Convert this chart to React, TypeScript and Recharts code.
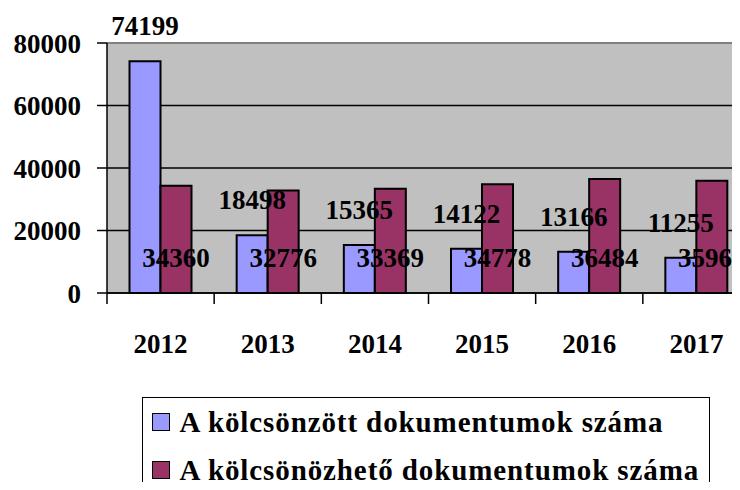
import React from 'react';
import { BarChart, Bar, XAxis, YAxis, CartesianGrid, Legend, LabelList, ReferenceLine } from 'recharts';

const years = ['2012', '2013', '2014', '2015', '2016', '2017'];
const borrowed = [74199, 18498, 15365, 14122, 13166, 11255];
const available = [34360, 32776, 33369, 34778, 36484, 35960];
const yTicks = [0, 20000, 40000, 60000, 80000];
const seriesNames = ['A kölcsönzött dokumentumok száma', 'A kölcsönözhető dokumentumok száma'];
const seriesColors = ['#9999FF', '#993366'];

const data = years.map((y, i) => ({ year: y, borrowed: borrowed[i], available: available[i] }));

const FONT = '"Liberation Serif", "Times New Roman", serif';
const CHART_W = 760;
const CHART_H = 490;
const MARGIN = { top: 43, right: 10, left: 0, bottom: 137 };
const YAXIS_W = 107;
const HALF_BAND = (CHART_W - MARGIN.left - MARGIN.right - YAXIS_W) / years.length / 2;

const XTick = (props: any) => {
  const { x, y, payload } = props;
  const off = payload && payload.offset ? payload.offset : HALF_BAND;
  return (
    <g>
      <line x1={x - off} x2={x - off} y1={y} y2={y + 11} stroke="#000" strokeWidth={1.5} />
      <text x={x} y={y + 60} textAnchor="middle" fontFamily={FONT} fontWeight="bold" fontSize={27} fill="#000">
        {payload.value}
      </text>
    </g>
  );
};

const makeLabel = (fromBase: boolean) => (props: any) => {
  const vb = props.viewBox && props.viewBox.width !== undefined ? props.viewBox : props;
  const x = Number(vb.x);
  const y = Number(vb.y);
  const w = Number(vb.width);
  const h = Number(vb.height);
  const ref = fromBase ? y + h : y;
  return (
    <text x={x + w / 2} y={ref - 26} textAnchor="middle" fontFamily={FONT} fontWeight="bold" fontSize={27} fill="#000">
      {props.value}
    </text>
  );
};

const BlueLabel = makeLabel(false);
const MaroonLabel = makeLabel(true);

const LegendBox = (props: any) => {
  const payload = props.payload && props.payload.length ? props.payload : seriesNames.map((n, i) => ({ value: n, color: seriesColors[i] }));
  return (
    <div
      style={{
        border: '1.5px solid #000',
        width: 568,
        height: 110,
        boxSizing: 'border-box',
        background: '#fff',
        fontFamily: FONT,
        fontWeight: 'bold',
        fontSize: 29,
        letterSpacing: 0.9,
        color: '#000',
      }}
    >
      {payload.map((p: any, i: number) => (
        <div key={i} style={{ display: 'flex', alignItems: 'center', height: 48, paddingLeft: 8.5, whiteSpace: 'nowrap' }}>
          <span
            style={{
              display: 'inline-block',
              width: 18,
              height: 18,
              boxSizing: 'border-box',
              background: p.color,
              border: '1.5px solid #000',
              marginRight: 10,
              flex: 'none',
            }}
          />
          <span style={{ lineHeight: '29px' }}>{p.value}</span>
        </div>
      ))}
    </div>
  );
};

export default function App() {
  return (
    <div style={{ margin: -8, width: 740, height: 490, overflow: 'hidden', position: 'relative', background: '#fff' }}>
      <BarChart width={CHART_W} height={CHART_H} data={data} margin={MARGIN} barCategoryGap="21%" barGap={0}>
        <CartesianGrid vertical={false} stroke="#000" strokeWidth={1.5} fill="#C0C0C0" fillOpacity={1} />
        <ReferenceLine y={80000} stroke="#808080" strokeWidth={2} />
        <XAxis
          dataKey="year"
          interval={0}
          height={60}
          tickLine={false}
          tickSize={0}
          tickMargin={0}
          axisLine={{ stroke: '#000', strokeWidth: 1.5 }}
          tick={<XTick />}
        />
        <YAxis
          width={YAXIS_W}
          domain={[0, 80000]}
          ticks={yTicks}
          interval={0}
          tickSize={10}
          tickMargin={16}
          axisLine={{ stroke: '#000', strokeWidth: 1.5 }}
          tickLine={{ stroke: '#000', strokeWidth: 1.5 }}
          tick={{ fill: '#000', fontSize: 27, fontWeight: 'bold', fontFamily: FONT }}
        />
        <Legend
          layout="vertical"
          align="center"
          verticalAlign="middle"
          wrapperStyle={{ left: 142, top: 397, width: 568, height: 110 }}
          content={<LegendBox />}
        />
        <Bar dataKey="borrowed" name={seriesNames[0]} fill={seriesColors[0]} stroke="#000" strokeWidth={2} isAnimationActive={false}>
          <LabelList dataKey="borrowed" content={BlueLabel} />
        </Bar>
        <Bar dataKey="available" name={seriesNames[1]} fill={seriesColors[1]} stroke="#000" strokeWidth={2} isAnimationActive={false}>
          <LabelList dataKey="available" content={MaroonLabel} />
        </Bar>
      </BarChart>
    </div>
  );
}
